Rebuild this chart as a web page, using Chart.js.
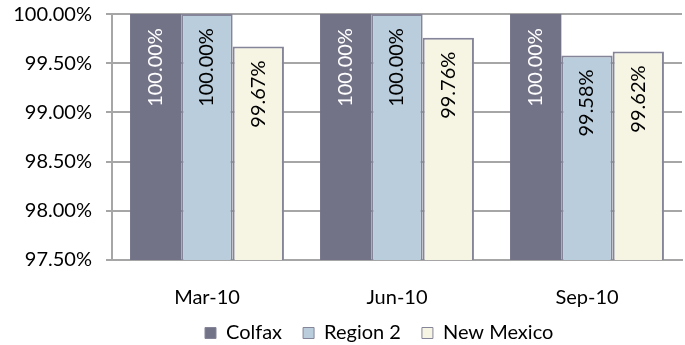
<!DOCTYPE html>
<html>
<head>
<meta charset="utf-8">
<script src="https://cdn.jsdelivr.net/npm/chart.js@4/dist/chart.umd.min.js"></script>
<style>
html,body{margin:0;padding:0;background:#fff;}
#wrap{width:685px;height:345px;position:relative;}
</style>
</head>
<body>
<div id="wrap"><canvas id="c" width="685" height="345"></canvas></div>
<script>
const categories = ["Mar-10", "Jun-10", "Sep-10"];
const seriesNames = ["Colfax", "Region 2", "New Mexico"];
const colfax = [100.00, 100.00, 100.00];
const region2 = [100.00, 100.00, 99.58];
const newMexico = [99.67, 99.76, 99.62];
const yMin = 97.5, yMax = 100, yStep = 0.5;

const FONT = "Lato";
const labelPlugin = {
  id: 'barLabels',
  afterLayout(chart) {
    const lg = chart.legend;
    if (!lg || !lg.lineWidths) return;
    const pad = lg.options.labels.padding;
    const start = (lg.left + pad + lg.right - lg.lineWidths[0]) / 2;
    const dx = 205 - start;
    lg.left += dx; lg.right += dx;
  },
  afterDatasetsDraw(chart) {
    const ctx = chart.ctx;
    chart.data.datasets.forEach((ds, di) => {
      const meta = chart.getDatasetMeta(di);
      meta.data.forEach((el, i) => {
        const v = ds.data[i];
        ctx.save();
        ctx.translate(el.x, el.y + 14);
        ctx.rotate(-Math.PI / 2);
        ctx.font = "20px " + FONT;
        ctx.fillStyle = ds.labelColor;
        ctx.textAlign = 'right';
        ctx.textBaseline = 'middle';
        ctx.fillText(v.toFixed(2) + '%', 0, 0);
        ctx.restore();
      });
    });
  }
};

new Chart(document.getElementById('c'), {
  type: 'bar',
  data: {
    labels: categories,
    datasets: [
      { label: seriesNames[0], data: colfax, backgroundColor: '#737388', borderColor: '#737388', borderWidth: 0, labelColor: '#ffffff' },
      { label: seriesNames[1], data: region2, backgroundColor: '#b9cddc', borderColor: '#85859a', borderWidth: 2, labelColor: '#000000' },
      { label: seriesNames[2], data: newMexico, backgroundColor: '#f6f4e2', borderColor: '#85859a', borderWidth: 2, labelColor: '#000000' }
    ]
  },
  options: {
    responsive: false,
    animation: false,
    devicePixelRatio: 1,
    layout: { padding: { top: 14, right: 3, left: 0, bottom: -8 } },
    datasets: { bar: { categoryPercentage: 0.81, barPercentage: 1.0 } },
    plugins: {
      legend: {
        position: 'bottom',
        labels: {
          boxWidth: 11, boxHeight: 11, padding: 1,
          color: '#000', font: { family: FONT, size: 20 },
          generateLabels(chart) {
            const n = chart.data.datasets.length;
            return chart.data.datasets.map((ds, i) => ({
              text: ds.label + (i < n - 1 ? '\u2003\u2005' : ''), fillStyle: ds.backgroundColor, strokeStyle: '#85859a',
              lineWidth: 1, hidden: false, datasetIndex: i, fontColor: '#000'
            }));
          }
        }
      },
      tooltip: { enabled: false }
    },
    scales: {
      x: {
        grid: { display: false, drawTicks: false },
        border: { display: true, color: '#a6a6a6', width: 2 },
        ticks: { color: '#000', font: { family: FONT, size: 20 }, padding: 26, maxRotation: 0 },
        afterFit(s) { s.height = 62; }
      },
      y: {
        min: yMin, max: yMax,
        grid: { color: '#a6a6a6', lineWidth: 2, tickLength: 6 },
        border: { display: true, color: '#a6a6a6', width: 2 },
        ticks: { stepSize: yStep, autoSkip: false, color: '#000', font: { family: FONT, size: 20, lineHeight: 0.01 }, padding: 14,
          callback: v => Number(v).toFixed(2) + '%' },
        afterFit(s) { s.width = 112; }
      }
    }
  },
  plugins: [labelPlugin]
});
</script>
</body>
</html>
